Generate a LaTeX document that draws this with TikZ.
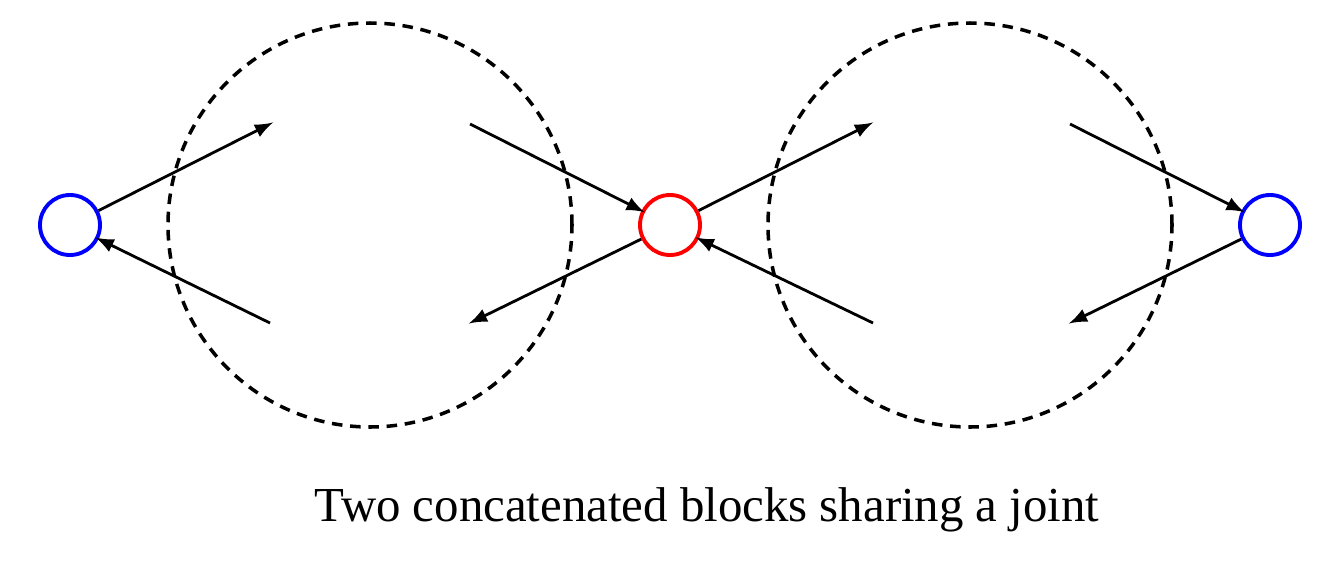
\documentclass[tikz,border=0pt]{standalone}
\usepackage{fontspec}
\setmainfont{Liberation Serif}
\usetikzlibrary{arrows}
\begin{document}
\begin{tikzpicture}
\useasboundingbox (0,0) rectangle (13.42,5.62);
\tikzset{joint/.style={draw, circle, line width=1.1pt, minimum size=0.6cm, inner sep=0pt},
  link/.style={->, >=latex, line width=0.8pt, shorten >=-1pt},
  block/.style={line width=1pt, dash pattern=on 3pt off 2.2pt}}

\draw[block] (3.7,3.37) circle (2.02);
\draw[block] (9.7,3.37) circle (2.02);

\node[joint, blue] (L) at (0.7,3.37) {};
\node[joint, red] (M) at (6.7,3.37) {};
\node[joint, blue] (R) at (12.7,3.37) {};

\coordinate (a1) at (2.70,4.38);
\coordinate (a2) at (2.70,2.39);
\coordinate (a3) at (4.70,4.38);
\coordinate (a4) at (4.72,2.40);
\coordinate (b1) at (8.70,4.38);
\coordinate (b2) at (8.73,2.39);
\coordinate (b3) at (10.70,4.38);
\coordinate (b4) at (10.72,2.40);

\draw[link] (L) -- (a1);
\draw[link] (a2) -- (L);
\draw[link] (a3) -- (M);
\draw[link] (M) -- (a4);
\draw[link] (M) -- (b1);
\draw[link] (b2) -- (M);
\draw[link] (b3) -- (R);
\draw[link] (R) -- (b4);

\node (cap) at (7.07,0.52) {\fontsize{13.9}{16}\selectfont Two concatenated blocks sharing a joint};
\end{tikzpicture}
\end{document}
